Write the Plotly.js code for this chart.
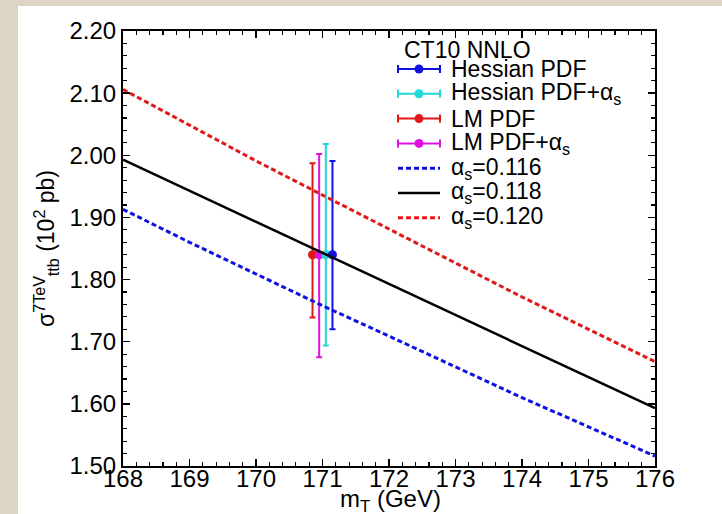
<!DOCTYPE html>
<html>
<head>
<meta charset="utf-8">
<script src="https://cdn.plot.ly/plotly-3.0.1.min.js"></script>
<style>html,body{margin:0;padding:0;background:#ddd5c4;}#chart{width:722px;height:514px;}</style>
</head>
<body>
<div id="chart"></div>
<script>
// ---- data ----
const mT = [168, 169, 170, 171, 172, 173, 174, 175, 176];
const sigma116 = [1.913, 1.860, 1.809, 1.758, 1.709, 1.659, 1.610, 1.563, 1.516];
const sigma118 = [1.993, 1.943, 1.893, 1.843, 1.793, 1.743, 1.693, 1.643, 1.593];
const sigma120 = [2.106, 2.048, 1.991, 1.936, 1.881, 1.826, 1.772, 1.720, 1.668];

const pointNames = ["Hessian PDF", "Hessian PDF+α<sub>s</sub>", "LM PDF", "LM PDF+α<sub>s</sub>"];
const pointX = [171.15, 171.05, 170.85, 170.95];
const pointY = [1.840, 1.840, 1.840, 1.840];
const pointHi = [1.991, 2.018, 1.987, 2.002];
const pointLo = [1.720, 1.694, 1.739, 1.675];
const pointColors = ["#1010e0", "#20d8d8", "#e01818", "#e010e0"];

const curveNames = ["α<sub>s</sub>=0.116", "α<sub>s</sub>=0.118", "α<sub>s</sub>=0.120"];
const curveColors = ["#1010e0", "#000000", "#e01818"];
const curveDash = ["5px,3px", "solid", "5px,3px"];
const legendTitle = "CT10 NNLO";
const xTitle = "m<sub>T</sub> (GeV)";
const yTitle = "σ<sup>7TeV</sup><sub>ttb</sub> (10<sup>2</sup> pb)";

const xTicks = [168, 169, 170, 171, 172, 173, 174, 175, 176];
const yTicks = [1.5, 1.6, 1.7, 1.8, 1.9, 2.0, 2.1, 2.2];

// ---- geometry helpers (layout only) ----
const M = {l: 123, r: 67, t: 31, b: 48};
const W = 722, H = 514;
const PW = W - M.l - M.r, PH = H - M.t - M.b;
function px(x) { return (x - M.l) / PW; }
function py(y) { return (H - M.b - y) / PH; }

// ---- traces ----
const traces = [];
[2, 3, 1, 0].forEach(function (i) {
  traces.push({
    type: "scatter", mode: "markers", name: pointNames[i], showlegend: false,
    x: [pointX[i]], y: [pointY[i]],
    marker: {color: pointColors[i], size: 9},
    error_y: {
      type: "data", symmetric: false,
      array: [pointHi[i] - pointY[i]],
      arrayminus: [pointY[i] - pointLo[i]],
      color: pointColors[i], thickness: 2, width: 3
    }
  });
});
const curves = [sigma116, sigma118, sigma120];
curves.forEach(function (c, k) {
  traces.push({type: "scatter", mode: "lines", name: curveNames[k], showlegend: false, x: mT, y: c,
    line: {color: curveColors[k], width: k === 1 ? 2.5 : 3, dash: curveDash[k]}});
});

const F = "Liberation Sans, Arial, Helvetica, sans-serif";

// ---- hand-drawn legend (CT10 style) ----
const shapes = [{
  type: "rect", xref: "paper", yref: "paper", layer: "below",
  x0: px(18), x1: px(730), y0: py(520), y1: py(6),
  fillcolor: "#ffffff", line: {width: 0}
}];
const annotations = [{
  xref: "paper", yref: "paper", x: px(402), y: py(50), xanchor: "left", yanchor: "middle",
  text: legendTitle, showarrow: false, font: {family: F, size: 23, color: "#000"}
}, {
  xref: "paper", yref: "paper", x: px(390), y: py(500), xanchor: "center", yanchor: "middle",
  text: xTitle, showarrow: false, font: {family: F, size: 24, color: "#000"}
}];
const legX0 = 398, legX1 = 440, legTxt = 449, legY0 = 69, legStep = 24.8;
const allNames = pointNames.concat(curveNames);
allNames.forEach(function (name, j) {
  const yy = legY0 + j * legStep;
  annotations.push({
    xref: "paper", yref: "paper", x: px(legTxt), y: py(yy), xanchor: "left", yanchor: "middle",
    text: name, showarrow: false, font: {family: F, size: 23, color: "#000"}
  });
  if (j < pointNames.length) {
    const col = pointColors[j];
    shapes.push({type: "line", xref: "paper", yref: "paper", x0: px(legX0), x1: px(legX1), y0: py(yy), y1: py(yy),
      line: {color: col, width: 2}});
    [legX0, legX1].forEach(function (cx) {
      shapes.push({type: "line", xref: "paper", yref: "paper", x0: px(cx), x1: px(cx), y0: py(yy - 4), y1: py(yy + 4),
        line: {color: col, width: 2}});
    });
    shapes.push({type: "circle", xref: "paper", yref: "paper",
      x0: px(419 - 4.5), x1: px(419 + 4.5), y0: py(yy + 4.5), y1: py(yy - 4.5),
      fillcolor: col, line: {color: col, width: 0}});
  } else {
    const k = j - pointNames.length;
    shapes.push({type: "line", xref: "paper", yref: "paper", x0: px(legX0), x1: px(legX1), y0: py(yy), y1: py(yy),
      line: {color: curveColors[k], width: k === 1 ? 2.5 : 3, dash: curveDash[k]}});
  }
});

const layout = {
  width: W, height: H,
  margin: M,
  paper_bgcolor: "#ddd5c4",
  plot_bgcolor: "#ffffff",
  font: {family: F, color: "#000000"},
  showlegend: false,
  xaxis: {
    range: [168, 176],
    tickvals: xTicks,
    ticktext: xTicks.map(String),
    ticks: "inside", ticklen: 7, tickwidth: 1.5, tickcolor: "#000",
    showline: true, linecolor: "#000", linewidth: 2, mirror: "allticks",
    showgrid: false, zeroline: false,
    tickfont: {family: F, size: 24, color: "#000"},
    ticklabelstandoff: -10,
    minor: {dtick: 0.2, ticks: "inside", ticklen: 4, tickwidth: 1.2, tickcolor: "#000", showgrid: false}
  },
  yaxis: {
    range: [1.5, 2.2],
    tickvals: yTicks,
    ticktext: yTicks.map(function (v) { return v.toFixed(2); }),
    ticks: "inside", ticklen: 7, tickwidth: 1.5, tickcolor: "#000",
    showline: true, linecolor: "#000", linewidth: 2, mirror: "allticks",
    showgrid: false, zeroline: false,
    tickfont: {family: F, size: 24, color: "#000"},
    minor: {dtick: 0.02, ticks: "inside", ticklen: 4, tickwidth: 1.2, tickcolor: "#000", showgrid: false},
    title: {text: yTitle, font: {family: F, size: 23, color: "#000"}, standoff: 8}
  },
  shapes: shapes,
  annotations: annotations
};

Plotly.newPlot("chart", traces, layout, {displayModeBar: false, staticPlot: true});
</script>
</body>
</html>
